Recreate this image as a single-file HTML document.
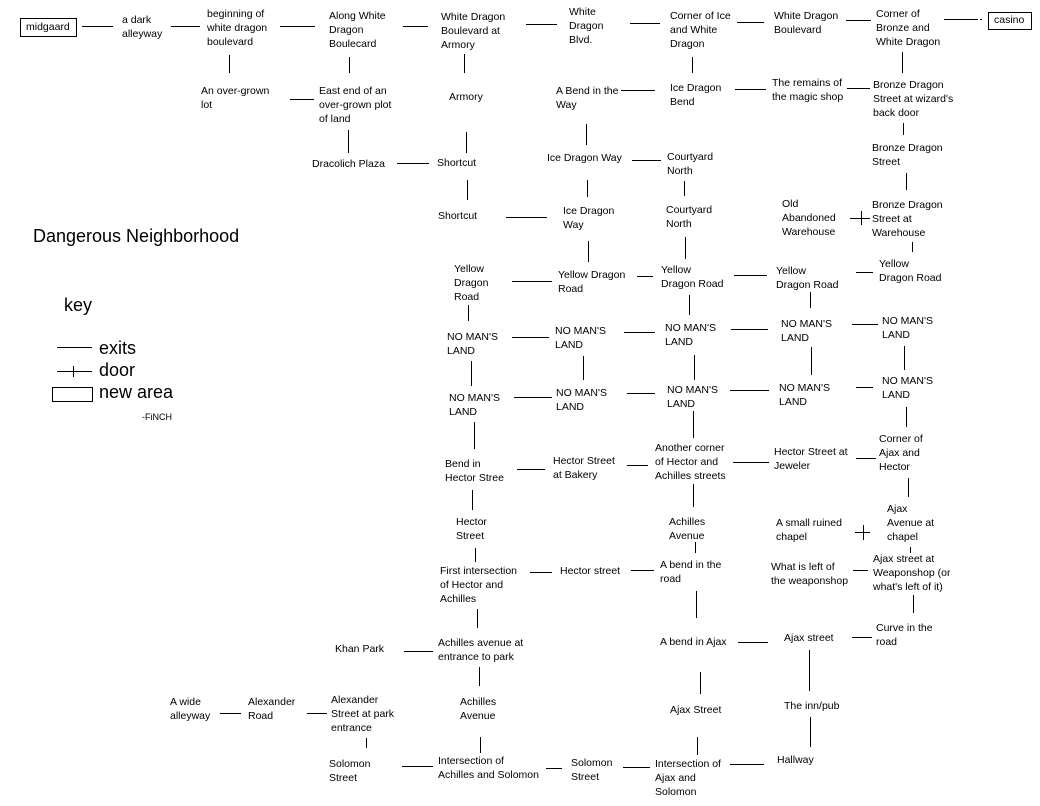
<!DOCTYPE html>
<html><head><meta charset="utf-8">
<style>
html,body{margin:0;padding:0;background:#fff;}
body{width:1040px;height:806px;position:relative;overflow:hidden;font-family:"Liberation Sans",Arial,sans-serif;color:#000;}
.t{position:absolute;font-size:10.5px;line-height:14px;white-space:nowrap;}
.b{position:absolute;font-size:18px;line-height:20px;white-space:nowrap;}
svg{position:absolute;left:0;top:0;}
</style></head><body>
<svg width="1040" height="806" shape-rendering="crispEdges" stroke="#000" stroke-width="1" fill="none">
<rect x="20.5" y="18.5" width="56" height="18"/>
<rect x="988.5" y="12.5" width="43" height="17"/>
<rect x="52.5" y="387.5" width="40" height="14"/>
<path d="M82 26.5H113M171 26.5H200M280 26.5H315M403 26.5H428M526 24.5H557M630 23.5H660M737 22.5H764M846 20.5H871M944 19.5H978M980 19.5H982
M290 99.5H314M621 90.5H655M735 89.5H766M847 88.5H870
M397 163.5H429M632 160.5H661
M506 217.5H547M850 218.5H870M861.5 211V225
M512 281.5H552M637 276.5H653M734 275.5H767M856 272.5H873
M512 337.5H549M624 332.5H655M731 329.5H768M852 324.5H878
M514 397.5H552M627 393.5H655M730 390.5H769M856 387.5H873
M517 469.5H545M627 465.5H648M733 462.5H769M856 458.5H876
M855 532.5H870M863.5 525V540
M530 572.5H552M631 570.5H654M853 570.5H868
M404 651.5H433M738 642.5H768M852 637.5H872
M220 713.5H241M307 713.5H327
M402 766.5H433M546 768.5H562M623 767.5H650M730 764.5H764
M57 347.5H92M57 371.5H92M73.5 366V377
M229.5 55V73M349.5 57V73M464.5 54V73M692.5 57V73M902.5 52V73
M348.5 130V153M466.5 132V153M586.5 124V145M903.5 123V135
M467.5 180V200M587.5 180V197M684.5 181V196M906.5 173V190
M588.5 241V262M685.5 237V259M912.5 242V252
M468.5 305V321M689.5 295V315M810.5 292V308
M471.5 361V386M583.5 356V380M694.5 355V380M811.5 347V375M904.5 346V370
M474.5 422V449M693.5 411V438M906.5 407V427
M472.5 490V510M693.5 484V507M908.5 478V497
M475.5 548V562M695.5 542V553M910.5 547V553
M477.5 609V628M696.5 591V618M913.5 595V613
M479.5 667V686M700.5 672V694M809.5 650V691
M480.5 737V753M697.5 737V755M810.5 717V747M366.5 738V748"/>
</svg>

<div class="t" style="left:26px;top:20px">midgaard</div>
<div class="t" style="left:122px;top:13px">a dark<br>alleyway</div>
<div class="t" style="left:207px;top:7px">beginning of<br>white dragon<br>boulevard</div>
<div class="t" style="left:329px;top:9px">Along White<br>Dragon<br>Boulecard</div>
<div class="t" style="left:441px;top:10px">White Dragon<br>Boulevard at<br>Armory</div>
<div class="t" style="left:569px;top:5px">White<br>Dragon<br>Blvd.</div>
<div class="t" style="left:670px;top:9px">Corner of Ice<br>and White<br>Dragon</div>
<div class="t" style="left:774px;top:9px">White Dragon<br>Boulevard</div>
<div class="t" style="left:876px;top:7px">Corner of<br>Bronze and<br>White Dragon</div>
<div class="t" style="left:994px;top:13px">casino</div>

<div class="t" style="left:201px;top:84px">An over-grown<br>lot</div>
<div class="t" style="left:319px;top:84px">East end of an<br>over-grown plot<br>of land</div>
<div class="t" style="left:449px;top:90px">Armory</div>
<div class="t" style="left:556px;top:84px">A Bend in the<br>Way</div>
<div class="t" style="left:670px;top:81px">Ice Dragon<br>Bend</div>
<div class="t" style="left:772px;top:76px">The remains of<br>the magic shop</div>
<div class="t" style="left:873px;top:78px">Bronze Dragon<br>Street at wizard's<br>back door</div>

<div class="t" style="left:312px;top:157px">Dracolich Plaza</div>
<div class="t" style="left:437px;top:156px">Shortcut</div>
<div class="t" style="left:547px;top:151px">Ice Dragon Way</div>
<div class="t" style="left:667px;top:150px">Courtyard<br>North</div>
<div class="t" style="left:872px;top:141px">Bronze Dragon<br>Street</div>

<div class="t" style="left:438px;top:209px">Shortcut</div>
<div class="t" style="left:563px;top:204px">Ice Dragon<br>Way</div>
<div class="t" style="left:666px;top:203px">Courtyard<br>North</div>
<div class="t" style="left:782px;top:197px">Old<br>Abandoned<br>Warehouse</div>
<div class="t" style="left:872px;top:198px">Bronze Dragon<br>Street at<br>Warehouse</div>

<div class="t" style="left:454px;top:262px">Yellow<br>Dragon<br>Road</div>
<div class="t" style="left:558px;top:268px">Yellow Dragon<br>Road</div>
<div class="t" style="left:661px;top:263px">Yellow<br>Dragon Road</div>
<div class="t" style="left:776px;top:264px">Yellow<br>Dragon Road</div>
<div class="t" style="left:879px;top:257px">Yellow<br>Dragon Road</div>

<div class="t" style="left:447px;top:330px">NO MAN'S<br>LAND</div>
<div class="t" style="left:555px;top:324px">NO MAN'S<br>LAND</div>
<div class="t" style="left:665px;top:321px">NO MAN'S<br>LAND</div>
<div class="t" style="left:781px;top:317px">NO MAN'S<br>LAND</div>
<div class="t" style="left:882px;top:314px">NO MAN'S<br>LAND</div>

<div class="t" style="left:449px;top:391px">NO MAN'S<br>LAND</div>
<div class="t" style="left:556px;top:386px">NO MAN'S<br>LAND</div>
<div class="t" style="left:667px;top:383px">NO MAN'S<br>LAND</div>
<div class="t" style="left:779px;top:381px">NO MAN'S<br>LAND</div>
<div class="t" style="left:882px;top:374px">NO MAN'S<br>LAND</div>

<div class="t" style="left:445px;top:457px">Bend in<br>Hector Stree</div>
<div class="t" style="left:553px;top:454px">Hector Street<br>at Bakery</div>
<div class="t" style="left:655px;top:441px">Another corner<br>of Hector and<br>Achilles streets</div>
<div class="t" style="left:774px;top:445px">Hector Street at<br>Jeweler</div>
<div class="t" style="left:879px;top:432px">Corner of<br>Ajax and<br>Hector</div>

<div class="t" style="left:456px;top:515px">Hector<br>Street</div>
<div class="t" style="left:669px;top:515px">Achilles<br>Avenue</div>
<div class="t" style="left:776px;top:516px">A small ruined<br>chapel</div>
<div class="t" style="left:887px;top:502px">Ajax<br>Avenue at<br>chapel</div>

<div class="t" style="left:440px;top:564px">First intersection<br>of Hector and<br>Achilles</div>
<div class="t" style="left:560px;top:564px">Hector street</div>
<div class="t" style="left:660px;top:558px">A bend in the<br>road</div>
<div class="t" style="left:771px;top:560px">What is left of<br>the weaponshop</div>
<div class="t" style="left:873px;top:552px">Ajax street at<br>Weaponshop (or<br>what's left of it)</div>

<div class="t" style="left:335px;top:642px">Khan Park</div>
<div class="t" style="left:438px;top:636px">Achilles avenue at<br>entrance to park</div>
<div class="t" style="left:660px;top:635px">A bend in Ajax</div>
<div class="t" style="left:784px;top:631px">Ajax street</div>
<div class="t" style="left:876px;top:621px">Curve in the<br>road</div>

<div class="t" style="left:170px;top:695px">A wide<br>alleyway</div>
<div class="t" style="left:248px;top:695px">Alexander<br>Road</div>
<div class="t" style="left:331px;top:693px">Alexander<br>Street at park<br>entrance</div>
<div class="t" style="left:460px;top:695px">Achilles<br>Avenue</div>
<div class="t" style="left:670px;top:703px">Ajax Street</div>
<div class="t" style="left:784px;top:699px">The inn/pub</div>

<div class="t" style="left:329px;top:757px">Solomon<br>Street</div>
<div class="t" style="left:438px;top:754px">Intersection of<br>Achilles and Solomon</div>
<div class="t" style="left:571px;top:756px">Solomon<br>Street</div>
<div class="t" style="left:655px;top:757px">Intersection of<br>Ajax and<br>Solomon</div>
<div class="t" style="left:777px;top:753px">Hallway</div>

<div class="b" style="left:33px;top:226px;font-size:18px">Dangerous Neighborhood</div>
<div class="b" style="left:64px;top:295px">key</div>
<div class="b" style="left:99px;top:338px">exits</div>
<div class="b" style="left:99px;top:360px">door</div>
<div class="b" style="left:99px;top:382px">new area</div>
<div class="t" style="left:142px;top:410px;font-size:9px">-FiNCH</div>
</body></html>
